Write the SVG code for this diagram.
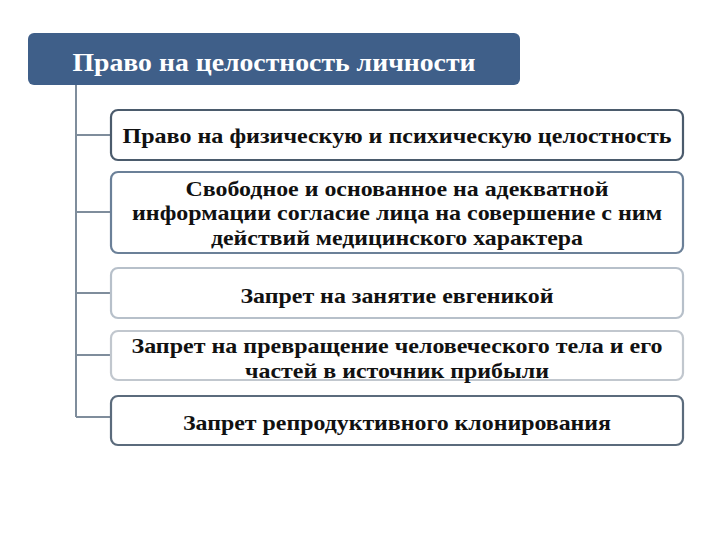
<svg xmlns="http://www.w3.org/2000/svg" width="720" height="540" viewBox="0 0 720 540">
<style>
.t{font-family:"Liberation Serif","Times New Roman",serif;font-weight:bold;font-size:22px;fill:#111;text-anchor:middle}
.h{font-family:"Liberation Serif","Times New Roman",serif;font-weight:bold;font-size:25px;fill:#fff;text-anchor:middle}
.box{fill:#fff;stroke-width:2.2}
.ln{stroke:#7f8d9c;stroke-width:2;fill:none}
</style>
<rect width="720" height="540" fill="#fff"/>
<g id="connectors">
<path class="ln" d="M76 85 V417 M76 135 H111 M76 212 H111 M76 293 H111 M76 355 H111 M76 417 H111"/>
</g>
<g id="header">
<rect x="28" y="33" width="492" height="52" rx="6" fill="#3f5f89"/>
<text class="h" x="274" y="71" textLength="403" lengthAdjust="spacingAndGlyphs">Право на целостность личности</text>
</g>
<g id="node1">
<rect class="box" x="111" y="110" width="572" height="50" rx="7" stroke="#4b5b6c"/>
<text class="t" x="397" y="143" textLength="549" lengthAdjust="spacingAndGlyphs">Право на физическую и психическую целостность</text>
</g>
<g id="node2">
<rect class="box" x="111" y="172" width="572" height="81" rx="7" stroke="#6b8098"/>
<text class="t" x="397" y="196" textLength="423" lengthAdjust="spacingAndGlyphs">Свободное и основанное на адекватной</text>
<text class="t" x="397" y="220" textLength="530" lengthAdjust="spacingAndGlyphs">информации согласие лица на совершение с ним</text>
<text class="t" x="397" y="245" textLength="372" lengthAdjust="spacingAndGlyphs">действий медицинского характера</text>
</g>
<g id="node3">
<rect class="box" x="111" y="268" width="572" height="50" rx="7" stroke="#b7c0ca"/>
<text class="t" x="397" y="303" textLength="313" lengthAdjust="spacingAndGlyphs">Запрет на занятие евгеникой</text>
</g>
<g id="node4">
<rect class="box" x="111" y="331" width="572" height="49" rx="7" stroke="#c1c7ce"/>
<text class="t" x="397" y="353" textLength="531" lengthAdjust="spacingAndGlyphs">Запрет на превращение человеческого тела и его</text>
<text class="t" x="397" y="378" textLength="304" lengthAdjust="spacingAndGlyphs">частей в источник прибыли</text>
</g>
<g id="node5">
<rect class="box" x="111" y="396" width="572" height="49" rx="7" stroke="#5b6b7c"/>
<text class="t" x="397" y="430" textLength="428" lengthAdjust="spacingAndGlyphs">Запрет репродуктивного клонирования</text>
</g>
</svg>
